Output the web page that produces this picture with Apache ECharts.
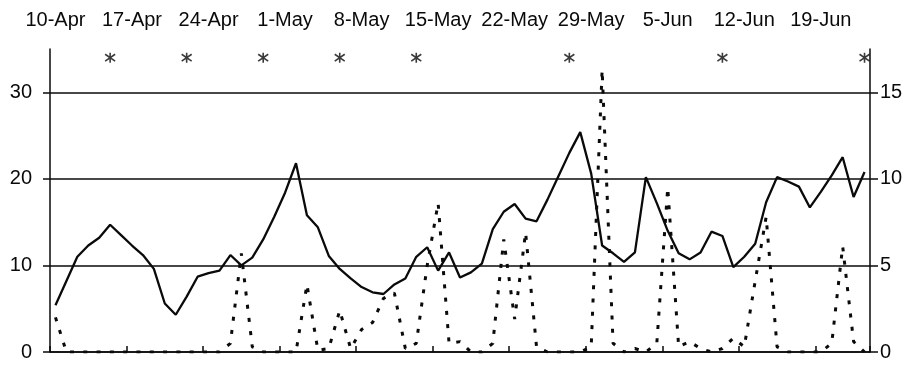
<!DOCTYPE html>
<html>
<head>
<meta charset="utf-8">
<script src="https://cdn.jsdelivr.net/npm/echarts@6/dist/echarts.min.js"></script>
<style>
html,body{margin:0;padding:0;background:#fff;}
#chart{width:912px;height:365px;}
</style>
</head>
<body>
<div id="chart"></div>
<script>
const dates = [
 '10-Apr','11-Apr','12-Apr','13-Apr','14-Apr','15-Apr','16-Apr','17-Apr','18-Apr','19-Apr',
 '20-Apr','21-Apr','22-Apr','23-Apr','24-Apr','25-Apr','26-Apr','27-Apr','28-Apr','29-Apr','30-Apr',
 '1-May','2-May','3-May','4-May','5-May','6-May','7-May','8-May','9-May','10-May',
 '11-May','12-May','13-May','14-May','15-May','16-May','17-May','18-May','19-May','20-May',
 '21-May','22-May','23-May','24-May','25-May','26-May','27-May','28-May','29-May','30-May','31-May',
 '1-Jun','2-Jun','3-Jun','4-Jun','5-Jun','6-Jun','7-Jun','8-Jun','9-Jun','10-Jun',
 '11-Jun','12-Jun','13-Jun','14-Jun','15-Jun','16-Jun','17-Jun','18-Jun','19-Jun','20-Jun',
 '21-Jun','22-Jun','23-Jun'
];

// solid line, left axis
const solidValues = [
 5.4, 8.2, 11.0, 12.3, 13.2, 14.7, 13.5, 12.3, 11.2, 9.6,
 5.6, 4.3, 6.4, 8.7, 9.1, 9.4, 11.2, 10.0, 10.9, 13.0,
 15.6, 18.4, 21.8, 15.8, 14.4, 11.1, 9.6, 8.5, 7.5, 6.9,
 6.7, 7.8, 8.5, 11.0, 12.1, 9.4, 11.5, 8.6, 9.2, 10.2,
 14.2, 16.2, 17.1, 15.4, 15.1, 17.6, 20.3, 23.0, 25.4, 20.6,
 12.3, 11.4, 10.4, 11.5, 20.2, 17.2, 14.0, 11.4, 10.7, 11.5,
 13.9, 13.4, 9.8, 11.0, 12.5, 17.3, 20.2, 19.7, 19.1, 16.7,
 18.5, 20.4, 22.5, 17.9, 20.8
];

// dotted line, right axis
const dottedValues = [
 2.0, 0, 0, 0, 0, 0, 0, 0, 0, 0,
 0, 0, 0, 0, 0, 0, 0.5, 5.7, 0.3, 0,
 0, 0, 0, 3.9, 0.1, 0.2, 2.4, 0.2, 1.3, 1.7,
 3.1, 3.4, 0.2, 0.5, 5.0, 8.6, 0.5, 0.6, 0, 0,
 0.5, 6.5, 1.9, 6.9, 0.3, 0, 0, 0, 0, 0.3,
 16.3, 0.5, 0, 0.2, 0, 0.5, 9.5, 0.3, 0.6, 0.2,
 0, 0.2, 0.8, 0.3, 4.1, 7.8, 0.3, 0, 0, 0,
 0, 0.5, 6.1, 0.6, 0
];

const markerDates = ['15-Apr','22-Apr','29-Apr','6-May','13-May','27-May','10-Jun','23-Jun'];
const markerLevel = 34;

const leftTicks = [0, 10, 20, 30];
const rightTicks = [0, 5, 10, 15];

const FONT = 'Liberation Sans, Arial, sans-serif';
const INK = '#0a0a0a';

const chart = echarts.init(document.getElementById('chart'), null, {renderer: 'canvas'});
chart.setOption({
  animation: false,
  backgroundColor: '#fff',
  grid: {left: 50, right: 42, top: 49, bottom: 13, containLabel: false},
  xAxis: {
    type: 'category',
    position: 'top',
    data: dates,
    boundaryGap: true,
    axisLine: {show: true, lineStyle: {color: INK, width: 1.5}},
    axisTick: {show: true, interval: 6, length: 6, alignWithLabel: false, lineStyle: {color: INK, width: 1.5}},
    axisLabel: {show: true, interval: 6, margin: 19, color: INK, fontSize: 20, fontFamily: FONT},
    splitLine: {show: false}
  },
  yAxis: [
    {
      type: 'value', position: 'left', min: 0, max: 35, interval: 10,
      axisLine: {show: true, lineStyle: {color: INK, width: 1.5}},
      axisTick: {show: true, length: 7, customValues: leftTicks, lineStyle: {color: INK, width: 1.5}},
      axisLabel: {show: true, margin: 18, customValues: leftTicks, color: INK, fontSize: 20, fontFamily: FONT},
      splitLine: {show: true, lineStyle: {color: INK, width: 1.5}}
    },
    {
      type: 'value', position: 'right', min: 0, max: 17.5, interval: 5,
      axisLine: {show: true, lineStyle: {color: INK, width: 1.5}},
      axisTick: {show: true, length: 8, customValues: rightTicks, lineStyle: {color: INK, width: 1.5}},
      axisLabel: {show: true, margin: 10, customValues: rightTicks, color: INK, fontSize: 20, fontFamily: FONT},
      splitLine: {show: false}
    }
  ],
  series: [
    {
      type: 'line', yAxisIndex: 1, data: dottedValues, symbol: 'none',
      lineStyle: {color: INK, width: 3, type: [4, 9.3], cap: 'butt'},
      z: 2
    },
    {
      type: 'line', yAxisIndex: 0, data: solidValues, symbol: 'none',
      lineStyle: {color: INK, width: 2.3},
      z: 3
    },
    {
      type: 'scatter', yAxisIndex: 0,
      data: markerDates.map(d => [d, markerLevel]),
      symbol: 'path://M5 0 L5 10 M0.6 1.6 L9.4 8.4 M9.4 1.6 L0.6 8.4',
      symbolSize: [10, 10],
      itemStyle: {color: 'none', borderColor: INK, borderWidth: 1.6},
      z: 4
    }
  ]
});
</script>
</body>
</html>
